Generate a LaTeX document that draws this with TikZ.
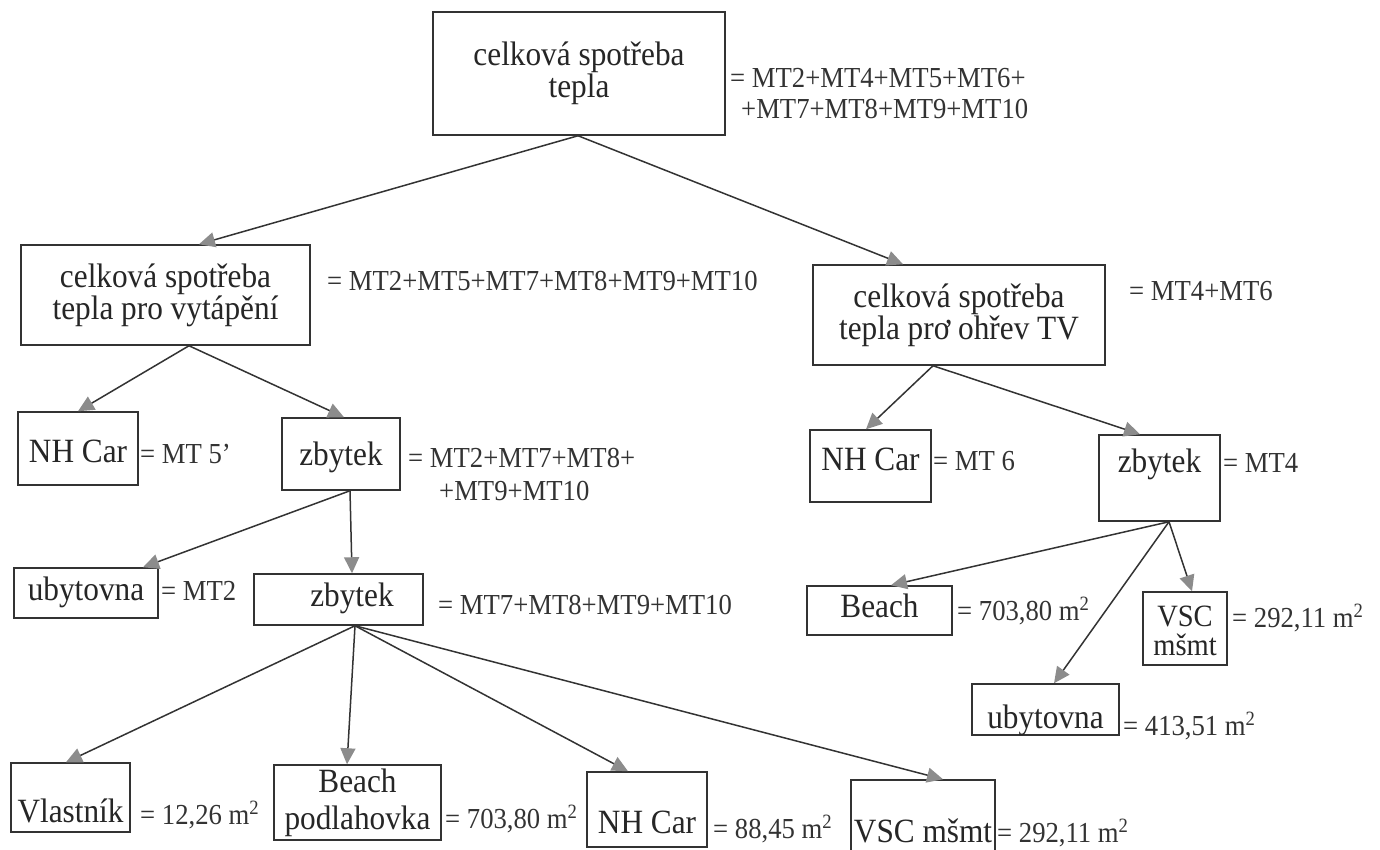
\documentclass[tikz,border=0pt]{standalone}
\usepackage{fontspec}
\setmainfont{Liberation Serif}[FakeStretch=0.92]
\usetikzlibrary{arrows.meta}
\begin{document}
\begin{tikzpicture}[x=1pt,y=-1pt,
  box/.style={draw=black!80, line width=1.5pt, inner sep=0pt, align=center, text=black!85, font=\fontsize{34}{32}\selectfont},
  ann/.style={anchor=base west, inner sep=0pt, text=black!80, font=\fontsize{29}{31}\selectfont},
  arr/.style={draw=black!80, line width=1.5pt, -{Triangle[length=16pt,width=15pt,color=black!45]}},
  bl/.style={text height=#1, text depth=0pt},
  ab/.style={text depth=#1, text height=0pt}]
\useasboundingbox (0,0) rectangle (1380,849);
\fill[white] (0,0) rectangle (1380,849);
\clip (0,0) rectangle (1380,849);
% boxes
\node[box,minimum width=292pt,minimum height=123pt] (A) at (579,73.5) {celková spotřeba\\tepla};
\node[box,minimum width=289pt,minimum height=100pt] (B) at (165.5,295) {celková spotřeba\\tepla pro vytápění};
\node[box,minimum width=292pt,minimum height=100pt] (J) at (959,315) {celková spotřeba\\tepla prơ ohřev TV};
\node[box,minimum width=120pt,minimum height=73pt,bl=27pt] (C) at (78,448.5) {NH Car};
\node[box,minimum width=118pt,minimum height=72pt,bl=22pt] (D) at (341,454) {zbytek};
\node[box,minimum width=121pt,minimum height=72pt,bl=8pt] (K) at (870.5,466) {NH Car};
\node[box,minimum width=121pt,minimum height=86pt,ab=12pt] (L) at (1159.5,478) {zbytek};
\node[box,minimum width=144pt,minimum height=50pt,bl=14pt] (E) at (86,593) {ubytovna};
\node[box,minimum width=169pt,minimum height=51pt,bl=13pt] (F) at (338.5,599.5) {\hspace*{27pt}zbytek};
\node[box,minimum width=145pt,minimum height=49pt,bl=13pt] (M) at (879.5,610.5) {Beach};
\node[box,minimum width=84pt,minimum height=73pt,font=\fontsize{31}{29}\selectfont] (N) at (1185,628.5) {\rule{0pt}{26pt}VSC\\mšmt};
\node[box,minimum width=147pt,minimum height=51pt,bl=37pt] (O) at (1045.5,709.5) {ubytovna};
\node[box,minimum width=119pt,minimum height=69pt,bl=49pt] (G) at (70.5,797.5) {Vlastník};
\node[box,minimum width=167pt,minimum height=75pt] (H) at (357.5,802.5) {Beach\\[5pt]podlahovka};
\node[box,minimum width=120pt,minimum height=75pt,bl=47pt] (I) at (647,809.5) {NH Car};
\node[box,minimum width=144pt,minimum height=90pt,bl=34pt] (P) at (923,825) {VSC mšmt};
% annotations
\node[ann] (aA1) at (730,87) {= MT2+MT4+MT5+MT6+};
\node[ann] (aA2) at (741,118) {+MT7+MT8+MT9+MT10};
\node[ann] (aB) at (327,290) {= MT2+MT5+MT7+MT8+MT9+MT10};
\node[ann] (aJ) at (1129,300) {= MT4+MT6};
\node[ann] (aC) at (140,463) {= MT 5’};
\node[ann] (aD1) at (408,467) {= MT2+MT7+MT8+};
\node[ann] (aD2) at (439,500) {+MT9+MT10};
\node[ann] (aK) at (933,470) {= MT 6};
\node[ann] (aL) at (1223,472) {= MT4};
\node[ann] (aE) at (161,600) {= MT2};
\node[ann] (aF) at (438,614) {= MT7+MT8+MT9+MT10};
\node[ann] (aM) at (957,620) {= 703,80 m\textsuperscript{2}};
\node[ann] (aN) at (1232,627) {= 292,11 m\textsuperscript{2}};
\node[ann] (aO) at (1123,735) {= 413,51 m\textsuperscript{2}};
\node[ann] (aG) at (140,824) {= 12,26 m\textsuperscript{2}};
\node[ann] (aH) at (445,828) {= 703,80 m\textsuperscript{2}};
\node[ann] (aI) at (713,838) {= 88,45 m\textsuperscript{2}};
\node[ann] (aP) at (997,842) {= 292,11 m\textsuperscript{2}};
% connectors
\draw[arr] ([xshift=-1pt]A.south) -- ([xshift=33.5pt]B.north);
\draw[arr] ([xshift=-1pt]A.south) -- ([xshift=-56pt]J.north);
\draw[arr] ([xshift=23.5pt]B.south) -- (C.north);
\draw[arr] ([xshift=23.5pt]B.south) -- ([xshift=3pt]D.north);
\draw[arr] ([xshift=-26pt]J.south) -- ([xshift=-4.5pt]K.north);
\draw[arr] ([xshift=-26pt]J.south) -- ([xshift=-19.5pt]L.north);
\draw[arr] ([xshift=9pt]D.south) -- ([xshift=57pt]E.north);
\draw[arr] ([xshift=9pt]D.south) -- ([xshift=13.5pt]F.north);
\draw[arr] ([xshift=9.5pt]L.south) -- ([xshift=11.5pt]M.north);
\draw[arr] ([xshift=9.5pt]L.south) -- ([xshift=7pt]N.north);
\draw[arr] ([xshift=9.5pt]L.south) -- ([xshift=8.5pt]O.north);
\draw[arr] ([xshift=16.5pt]F.south) -- ([xshift=-4.5pt]G.north);
\draw[arr] ([xshift=16.5pt]F.south) -- ([xshift=-10.5pt]H.north);
\draw[arr] ([xshift=16.5pt]F.south) -- ([xshift=-19pt]I.north);
\draw[arr] ([xshift=16.5pt]F.south) -- ([xshift=20pt]P.north);
\end{tikzpicture}
\end{document}
